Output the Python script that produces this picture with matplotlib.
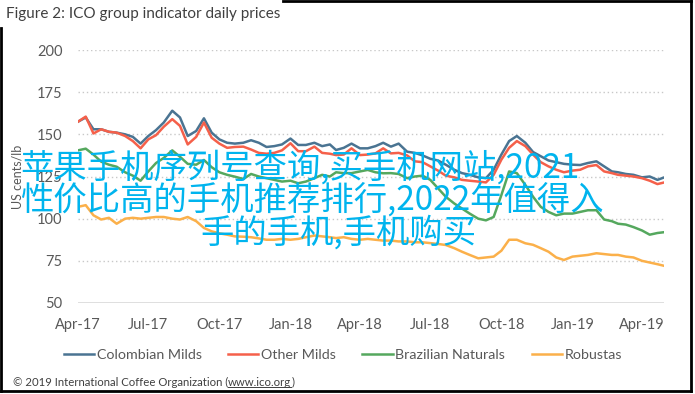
import numpy as np
import pandas as pd
import matplotlib
matplotlib.use("Agg")
import matplotlib.pyplot as plt
from matplotlib.lines import Line2D

# dates: 1st, 11th, 21st of each month, Apr 2017 - Apr 2019
dates = [f"{y}-{m:02d}-{d:02d}" for y, m in
         [(2017, m) for m in range(4, 13)] + [(2018, m) for m in range(1, 13)] + [(2019, m) for m in range(1, 5)]
         for d in (1, 11, 21)]
dates = dates + ["2019-04-30"]

colombian = [157.5, 160, 153, 153, 151.5, 151, 150, 148.5, 144.5,
             149, 152.5, 157, 164, 160, 149, 152, 159.5, 151,
             147, 145, 144.5, 145, 146.5, 145, 142.5, 143, 144,
             147.5, 143.7, 143.7, 145, 143, 144, 140.7, 142, 144.5,
             141.7, 141.7, 143, 145, 142.7, 144.5, 139.7, 139, 137.5,
             135.5, 134.5, 132, 129, 127, 126, 124.5, 124, 129,
             138, 146, 149, 145, 139.5, 137, 134.5, 133.5, 132.5,
             132, 131.8, 133, 134, 131, 128, 127.5, 126.5, 126,
             124.5, 125, 123, 124.5]
other = [157.5, 160.5, 150.5, 153, 151.5, 151, 149, 146, 141.7,
         147, 149.5, 154.5, 159, 155, 144, 148.5, 157, 148,
         144.5, 142, 142.5, 142.7, 141, 139, 138.5, 139, 140.5,
         144.7, 140, 140, 142.7, 139, 138.5, 137.7, 138, 141.7,
         137.7, 138, 138.7, 141.7, 138.7, 139, 137.5, 134, 133.5,
         131, 128.5, 125.5, 124.5, 123, 122.5, 122, 121.5, 126,
         135, 142, 146, 143, 138, 133.5, 131, 129, 127.5,
         128.5, 129, 131, 131.8, 128, 127, 126, 125.5, 125,
         124, 122.5, 120.5, 121.5]
brazilian = [140.5, 141.5, 138, 133.8, 132, 130.8, 127.5, 125.5, 122.5,
             128, 133, 136, 140.5, 136.7, 132.5, 132, 134.8, 130.5,
             127.5, 126, 124.9, 123.5, 126.5, 125, 124, 123, 122,
             122.5, 121, 122, 124, 126, 125, 127.5, 127, 127,
             128, 128.9, 127.5, 126.9, 127, 126.5, 124, 125, 125.5,
             123, 118, 113, 109, 106, 103, 100, 99, 101,
             114, 128, 127, 120, 113, 107, 104, 102, 103,
             103, 104, 105, 105, 99.5, 98.5, 97, 96.5, 95,
             93, 90.5, 91.5, 92]
robustas = [107, 108, 102, 99.5, 100.5, 97, 100, 100.5, 100,
            100.5, 101, 101, 100, 99.5, 101, 98.5, 94.5, 92.5,
            91.3, 90.5, 89.5, 89.3, 89, 88.3, 87.5, 87.5, 88,
            87.5, 88, 89, 90, 89.5, 89, 88.5, 89, 88,
            87.5, 88, 87.5, 87, 87, 86.5, 86.5, 86, 86,
            85.5, 85, 84.4, 82.5, 80.4, 78.5, 76.5, 77, 77.5,
            81, 87.5, 87.5, 85.4, 84.5, 82.5, 80.4, 77, 75.5,
            77.5, 78, 78.5, 79.5, 79, 78.5, 78.5, 77.5, 77,
            75, 74, 73, 72]

series_names = ["Colombian Milds", "Other Milds", "Brazilian Naturals", "Robustas"]
series_values = [colombian, other, brazilian, robustas]
series_colors = ["#4a7492", "#f5604a", "#55a85e", "#fbb04a"]

tick_dates = ["2017-04-01", "2017-07-01", "2017-10-01", "2018-01-01", "2018-04-01",
              "2018-07-01", "2018-10-01", "2019-01-01", "2019-04-01"]
tick_labels = ["Apr-17", "Jul-17", "Oct-17", "Jan-18", "Apr-18",
               "Jul-18", "Oct-18", "Jan-19", "Apr-19"]
y_ticks = [50, 75, 100, 125, 150, 175, 200]

plt.rcParams['font.family'] = ['Lato', 'DejaVu Sans']
txt = "#595959"

W, H = 695, 394
fig = plt.figure(figsize=(W / 100, H / 100), dpi=100)
ax = fig.add_axes([78 / W, 1 - 303 / H, (664.4 - 78) / W, 253 / H])

x = pd.to_datetime(dates)
for name, vals, col in zip(series_names, series_values, series_colors):
    ax.plot(x, vals, color=col, lw=1.8, label=name, solid_joinstyle='round')

ax.set_xlim(pd.Timestamp("2017-04-01"), pd.Timestamp("2019-04-30"))
ax.set_ylim(50, 200)
ax.set_yticks(y_ticks)
ax.set_xticks(pd.to_datetime(tick_dates))
ax.set_xticklabels(tick_labels)
for s in ax.spines.values():
    s.set_visible(False)
ax.tick_params(length=0, labelsize=10.5, labelcolor=txt)
ax.tick_params(axis='y', pad=11)
ax.tick_params(axis='x', pad=11)
for v in y_ticks[1:]:
    ax.axhline(v, color="#c8c8c8", lw=1, ls=(0, (1, 2)), zorder=0)
ax.axhline(50, color="#d9d9d9", lw=1.2, zorder=0)
ax.set_ylabel("US cents/lb", color=txt, fontsize=9, labelpad=10)

# title and footer
fig.text(6 / W, 1 - 14 / H, "Figure 2: ICO group indicator daily prices",
         fontsize=11, color="#404040", va='center', ha='left')
foot = fig.text(13 / W, 1 - 382 / H, "\u00a9 2019 International Coffee Organization (",
                fontsize=8.2, color="#404040", va='center', ha='left')
fig.canvas.draw()
bb = foot.get_window_extent()
url = fig.text(bb.x1 / W, 1 - 382 / H, "www.ico.org", fontsize=8.2, color="#404040",
               va='center', ha='left')
fig.canvas.draw()
bb2 = url.get_window_extent()
fig.add_artist(Line2D([bb2.x0 / W, bb2.x1 / W], [(bb2.y0 + 1) / H] * 2,
                      color="#404040", lw=0.7))
fig.text(bb2.x1 / W, 1 - 382 / H, ")", fontsize=8.2, color="#404040", va='center', ha='left')

# legend
handles = [Line2D([], [], color=c, lw=1.8) for c in series_colors]
fig.legend(handles, series_names, loc='center', bbox_to_anchor=(343 / W, 1 - 355 / H),
           ncol=4, frameon=False, fontsize=10.3, labelcolor=txt, handlelength=2.1,
           handletextpad=0.2, columnspacing=1.85)

# border
bk = dict(color="black", lw=2)
fig.add_artist(Line2D([283 / W, 691 / W], [1 - 1 / H] * 2, **bk))
fig.add_artist(Line2D([691 / W] * 2, [1 - 1 / H, 1 - 391 / H], **bk))
fig.add_artist(Line2D([1 / W, 691 / W], [1 - 391 / H] * 2, **bk))
fig.add_artist(Line2D([1 / W] * 2, [1 - 28 / H, 1 - 391 / H], **bk))

# watermark
wm = "#00b4ee"
wf = ['Noto Sans CJK SC', 'DejaVu Sans']
fig.text(20 / W, 1 - 168 / H, "苹果手机序列号查询,买手机网站,2021", family=wf,
         fontsize=24, color=wm, va='center', ha='left')
fig.text(20 / W, 1 - 200 / H, "性价比高的手机推荐排行,2022年值得入", family=wf,
         fontsize=24, color=wm, va='center', ha='left')
fig.text(200 / W, 1 - 233 / H, "手的手机,手机购买", family=wf,
         fontsize=24, color=wm, va='center', ha='left')

fig.savefig("out.png", dpi=100)
